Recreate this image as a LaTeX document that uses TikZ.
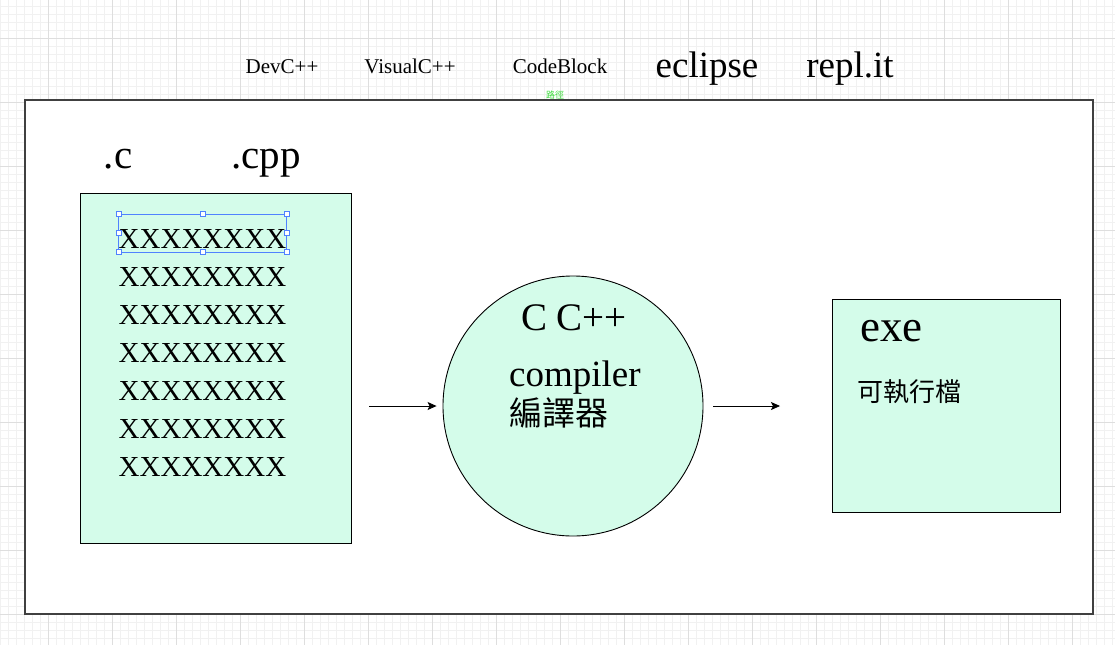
\documentclass[tikz,border=0pt]{standalone}
\usepackage{fontspec}
\setmainfont{Liberation Serif}
\newfontfamily\cjk{Noto Sans CJK TC}
\usetikzlibrary{arrows.meta}
\definecolor{mint}{RGB}{212,252,234}
\definecolor{gridminor}{RGB}{241,241,241}
\definecolor{gridmajor}{RGB}{222,222,222}
\definecolor{selblue}{RGB}{80,130,255}
\definecolor{pathgreen}{RGB}{60,220,60}

\begin{document}
\begin{tikzpicture}[x=1pt,y=-1pt,
  ide/.style={font=\fontsize{21}{25}\selectfont, anchor=base, inner sep=0pt},
  bigide/.style={font=\fontsize{37}{42}\selectfont, anchor=base, inner sep=0pt},
  ext/.style={font=\fontsize{41}{46}\selectfont, anchor=base, inner sep=0pt},
  code/.style={font=\fontsize{29}{33}\selectfont, anchor=base, inner sep=0pt, text height=34pt, text depth=4pt},
  box/.style={draw=black, fill=mint, line width=0.9pt},
  handle/.style={draw=selblue, fill=white, line width=0.6pt},
  arr/.style={line width=0.8pt, -{Stealth[length=9pt,width=8pt,inset=2pt]}}]
  \useasboundingbox (0,0) rectangle (1115,645);
  % grid paper
  \foreach \x in {0,8,...,1112} \draw[gridminor, line width=0.6pt] (\x,0) -- (\x,645);
  \foreach \y in {6,14,...,645} \draw[gridminor, line width=0.6pt] (0,\y) -- (1115,\y);
  \foreach \x in {48,112,...,1112} \draw[gridmajor, line width=0.6pt] (\x,0) -- (\x,645);
  \foreach \y in {38,102,...,645} \draw[gridmajor, line width=0.6pt] (0,\y) -- (1115,\y);
  \filldraw[fill=white, draw=black!75, line width=1.2pt] (25,100) rectangle (1093,614);

  % tools
  \node[ide] (devc) at (282,73) {DevC++};
  \node[ide] (visualc) at (410,73) {VisualC++};
  \node[ide] (codeblock) at (560,73) {CodeBlock};
  \node[bigide] (eclipse) at (707,77) {eclipse};
  \node[bigide] (replit) at (850,77) {repl.it};
  \node[font=\fontsize{9}{10}\selectfont\cjk, text=pathgreen, inner sep=0pt] (pathlbl) at (555,95) {路徑};

  % source file
  \node[ext] (dotc) at (118,168) {.c};
  \node[ext] (dotcpp) at (266,168) {.cpp};
  \node[box, minimum width=271pt, minimum height=350pt] (src) at (215.5,368) {};
  \foreach \i in {1,...,7}
    \node[code] (x\i) at (202.5,{248+38*(\i-1)}) {XXXXXXXX};
  \draw[selblue, line width=0.6pt] (x1.north west) rectangle (x1.south east);
  \foreach \a in {north west,north,north east,west,east,south west,south,south east}
    \draw[handle] (x1.\a) ++(-2.5,-2.5) rectangle ++(5,5);

  % compiler
  \node[box, circle, minimum size=260pt] (cc) at (573,406) {};
  \node[font=\fontsize{39}{44}\selectfont, anchor=base, inner sep=0pt] (ccpp) at (574,330) {C C++};
  \node[font=\fontsize{37}{42}\selectfont, anchor=base west, inner sep=0pt] (compiler) at (509,386) {compiler};
  \node[font=\fontsize{33}{38}\selectfont\cjk, anchor=west, inner sep=0pt] (bianyiqi) at (509,413) {編譯器};

  % executable
  \node[box, minimum width=228pt, minimum height=213pt] (exebox) at (946,405.5) {};
  \node[font=\fontsize{45}{50}\selectfont, anchor=base west, inner sep=0pt] (exe) at (860,341) {exe};
  \node[font=\fontsize{26}{30}\selectfont\cjk, anchor=west, inner sep=0pt] (kezhixing) at (857,392) {可執行檔};

  % arrows
  \coordinate (a1) at (369,406);
  \coordinate (a2) at (780,406);
  \draw[arr] (a1) -- ([xshift=-6pt]cc.west);
  \draw[arr] ([xshift=10pt]cc.east) -- (a2);
\end{tikzpicture}
\end{document}
